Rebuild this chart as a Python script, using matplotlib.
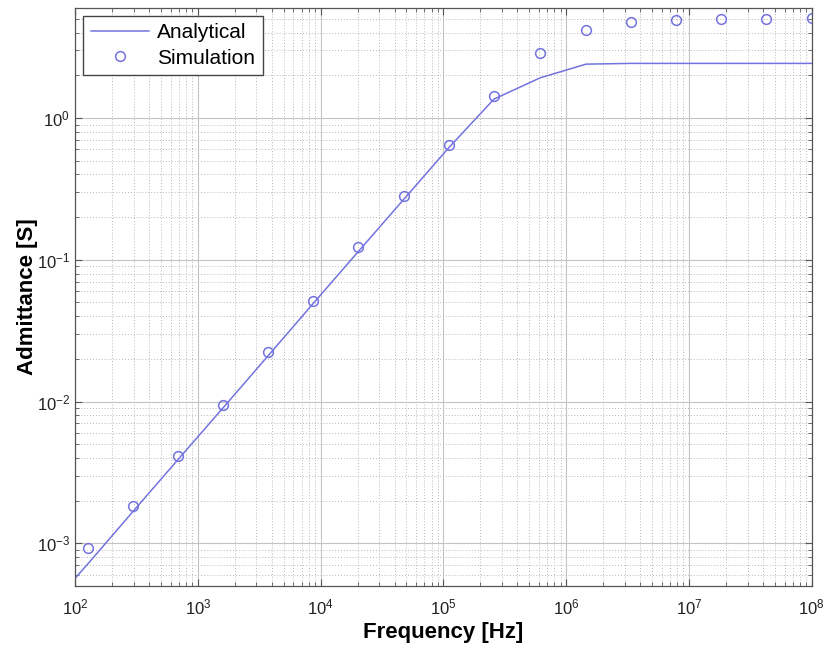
import numpy as np
import matplotlib
matplotlib.use("Agg")
import matplotlib.pyplot as plt
from matplotlib.ticker import LogLocator, NullFormatter, LogFormatterSciNotation

plt.rcParams['font.family'] = ['Liberation Sans', 'DejaVu Sans']
plt.rcParams['mathtext.fontset'] = 'custom'
plt.rcParams['mathtext.rm'] = 'Liberation Sans'
plt.rcParams['mathtext.it'] = 'Liberation Sans'

# analytical curve
freq_an = [100, 128, 297, 690, 1600, 3730, 8670, 20200, 47700, 111000,
           258000, 612000, 1.45e6, 3.37e6, 7.8e6, 1.82e7, 4.24e7, 1e8]
adm_an = [5.66e-4, 7.2e-4, 1.68e-3, 3.9e-3, 9.0e-3, 0.021, 0.049, 0.114,
          0.268, 0.62, 1.36, 1.92, 2.40, 2.43, 2.43, 2.43, 2.43, 2.43]

# simulation points
freq_sim = [128, 297, 690, 1600, 3730, 8670, 20200, 47700, 111000,
            258000, 612000, 1.45e6, 3.37e6, 7.8e6, 1.82e7, 4.24e7, 1e8]
adm_sim = [9.2e-4, 1.82e-3, 4.1e-3, 9.4e-3, 0.0223, 0.051, 0.123, 0.281,
           0.645, 1.43, 2.87, 4.18, 4.76, 4.92, 5.0, 5.0, 5.08]

col = '#7373e0'

fig = plt.figure(figsize=(8.25, 6.46), dpi=100)
ax = fig.add_axes([0.091, 0.093, 0.893, 0.895])

ax.loglog(freq_an, adm_an, '-', color=col, lw=1.1, label='Analytical')
ax.loglog(freq_sim, adm_sim, 'o', mfc='none', mec=col, ms=7, mew=1.1,
          label='Simulation')

ax.set_xlim(1e2, 1e8)
ax.set_ylim(5e-4, 6)

# only decades inside the limits get a label
ax.set_xticks(10.0 ** np.arange(2, 9))
ax.set_yticks(10.0 ** np.arange(-3, 1))
ax.xaxis.set_major_formatter(LogFormatterSciNotation())
ax.yaxis.set_major_formatter(LogFormatterSciNotation())
ax.xaxis.set_minor_locator(LogLocator(base=10, subs=np.arange(2, 10), numticks=20))
ax.yaxis.set_minor_locator(LogLocator(base=10, subs=np.arange(2, 10), numticks=20))
ax.xaxis.set_minor_formatter(NullFormatter())
ax.yaxis.set_minor_formatter(NullFormatter())
ax.set_xlim(1e2, 1e8)
ax.set_ylim(5e-4, 6)

ax.grid(True, which='major', color='#c4c4c4', lw=0.8, ls='-')
ax.grid(True, which='minor', color='#b8b8b8', lw=0.7, ls=(0, (1, 2)))
ax.set_axisbelow(True)

ax.tick_params(which='both', direction='in', top=True, right=True,
               colors='#555555', labelcolor='#222222', labelsize=12)
ax.tick_params(which='major', length=5)
ax.tick_params(which='minor', length=3)
ax.tick_params(axis='x', pad=8)
for s in ax.spines.values():
    s.set_color('#555555')
    s.set_linewidth(0.9)

ax.set_xlabel('Frequency [Hz]', fontsize=16, fontweight='bold', labelpad=4)
ax.set_ylabel('Admittance [S]', fontsize=16, fontweight='bold', labelpad=-1)

leg = ax.legend(loc='upper left', fontsize=15, fancybox=False,
                framealpha=1, edgecolor='#444444', borderaxespad=0.4,
                handlelength=2.8, handletextpad=0.4, borderpad=0.35,
                labelspacing=0.3)
leg.get_frame().set_linewidth(1.0)

fig.savefig('out.png', dpi=100)
